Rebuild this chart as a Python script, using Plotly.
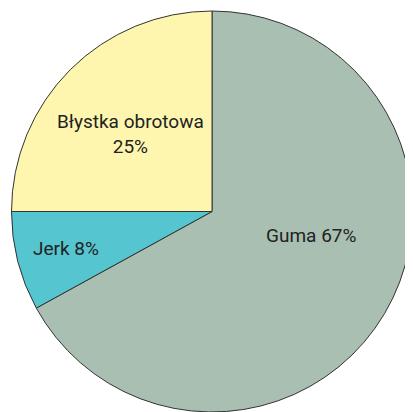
import plotly.graph_objects as go

labels = ["Guma", "Jerk", "Błystka obrotowa"]
values = [67, 8, 25]
label_text = ["Guma 67%", "Jerk 8%", "Błystka obrotowa<br>25%"]
colors = ["#a8bfb1", "#55c5d0", "#fef6ae"]

# page body has an 8px default margin, so the figure is drawn 8px in
OFF = 8
W, H = 413 - OFF, 412 - OFF

# pie centre (window px) and radius
CX, CY, R = 212, 212, 201
cx, cy = CX - OFF, CY - OFF

fig = go.Figure(go.Pie(
    labels=labels,
    values=values,
    sort=False,
    direction="clockwise",
    rotation=0,
    textinfo="none",
    hoverinfo="label+percent",
    marker=dict(colors=colors, line=dict(color="#333333", width=1)),
    domain=dict(x=[max(0, (cx - R) / W), min(1, (cx + R) / W)],
                y=[max(0, 1 - (cy + R) / H), min(1, 1 - (cy - R) / H)]),
    showlegend=False,
))

# label placements (window pixel centres)
label_pos = [(311, 235), (66, 248), (130, 134)]
for txt, (px, py) in zip(label_text, label_pos):
    fig.add_annotation(
        x=(px - OFF) / W, y=1 - (py - OFF) / H, xref="paper", yref="paper",
        xanchor="center", yanchor="middle",
        text=txt, showarrow=False, align="center",
        font=dict(family="Liberation Sans Narrow, Roboto, Arial", size=19, color="#222222"),
    )

fig.update_layout(
    width=W, height=H,
    margin=dict(l=0, r=0, t=0, b=0),
    paper_bgcolor="white",
    plot_bgcolor="white",
)

fig.write_html("out.html")
